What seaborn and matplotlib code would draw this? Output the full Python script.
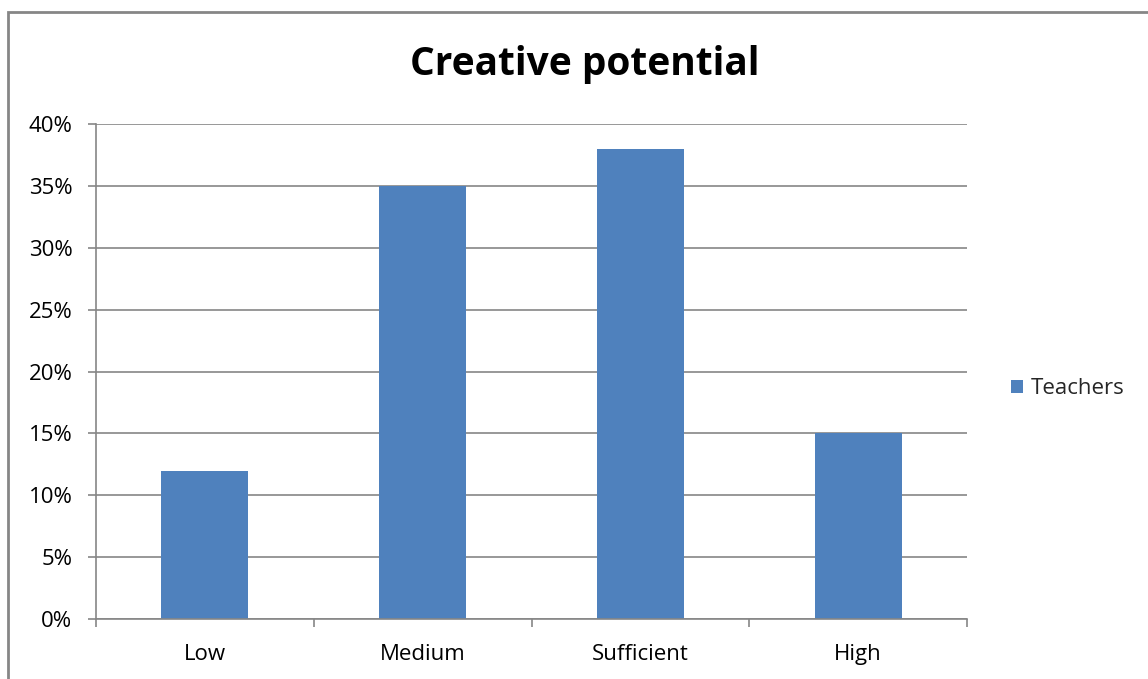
import matplotlib
matplotlib.use('Agg')
import matplotlib.pyplot as plt
import seaborn as sns
import pandas as pd
from matplotlib.patches import Rectangle
from matplotlib.ticker import PercentFormatter

# values
categories = ['Low', 'Medium', 'Sufficient', 'High']
teachers = [12, 35, 38, 15]

df = pd.DataFrame({'Level': categories, 'Share': teachers})

sns.set_theme(style='white')
plt.rcParams['font.family'] = ['Open Sans', 'DejaVu Sans']

fig = plt.figure(figsize=(11.48, 6.79), dpi=100)
ax = fig.add_axes([96 / 1148, 1 - 619 / 679, (967 - 96) / 1148, (619 - 124) / 679])

sns.barplot(data=df, x='Level', y='Share', color='#4F81BD', width=0.4,
            saturation=1, ax=ax, label='Teachers', linewidth=0, edgecolor='none')

ax.set_ylim(0, 40)
ax.set_xlim(-0.5, len(categories) - 0.5)
ax.set_yticks(range(0, 41, 5))
ax.yaxis.set_major_formatter(PercentFormatter(decimals=0))
ax.set_xticks([i - 0.5 for i in range(len(categories) + 1)], minor=False)
ax.set_xticklabels([])
ax.set_xticks(range(len(categories)), minor=True)
ax.set_xticklabels(categories, minor=True)
ax.tick_params(bottom=True, left=True, which='both')
ax.tick_params(axis='x', which='minor', length=0, pad=18, labelsize=16, colors='#000000')
ax.tick_params(axis='x', which='major', length=6, width=1.2, color='#868686', direction='out')
ax.tick_params(axis='y', length=6, width=1.2, color='#868686', direction='out', labelsize=16, pad=11)
ax.tick_params(axis='y', labelcolor='#000000')
ax.grid(axis='y', color='#868686', linewidth=1.2)
ax.set_axisbelow(True)
ax.set_xlabel('')
ax.set_ylabel('')
for s in ['top', 'right']:
    ax.spines[s].set_visible(False)
for s in ['left', 'bottom']:
    ax.spines[s].set_color('#868686')
    ax.spines[s].set_linewidth(1.2)

fig.text(585 / 1148, 1 - 65 / 679, 'Creative potential', ha='center', va='center',
         fontsize=28, fontweight='bold', color='#000000')

handles, labels = ax.get_legend_handles_labels()
if ax.get_legend() is not None:
    ax.get_legend().remove()
fig.legend(handles, labels, loc='center left', bbox_to_anchor=(1011 / 1148, 1 - 389 / 679),
           frameon=False, fontsize=16, handlelength=0.55, handleheight=0.55,
           handletextpad=0.35, borderpad=0, borderaxespad=0)

# outer chart border
fig.patches.append(Rectangle((8 / 1148, -0.1), 1.2, 1 - 12 / 679 + 0.1,
                             transform=fig.transFigure, fill=False,
                             edgecolor='#868686', linewidth=2))

fig.savefig('out.png', dpi=100)
